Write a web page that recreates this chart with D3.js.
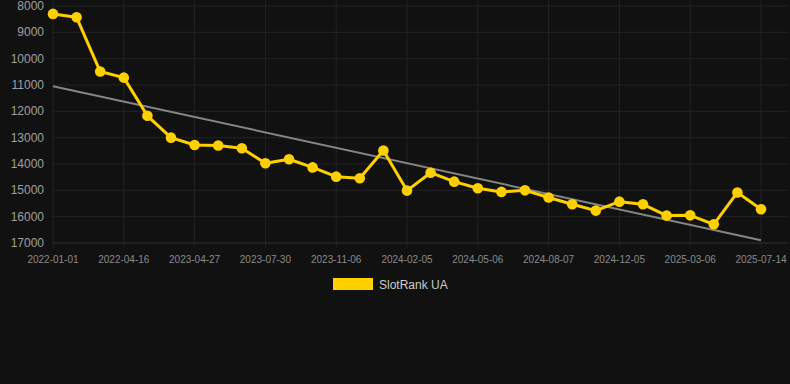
<!DOCTYPE html>
<html>
<head>
<meta charset="utf-8">
<script src="https://cdn.jsdelivr.net/npm/d3@7"></script>
<style>
  html, body { margin: 0; padding: 0; background: #111111; }
  svg { display: block; font-family: Arial, "Liberation Sans", sans-serif; }
</style>
</head>
<body>
<svg id="chart" width="790" height="384"></svg>
<script>
// dates (one per point) and rank values
var dates = [
  "2022-01-01", "2022-02-05", "2022-03-12", "2022-04-16", "2022-05-21", "2023-02-15",
  "2023-04-27", "2023-05-28", "2023-06-28", "2023-07-30", "2023-08-30", "2023-10-05",
  "2023-11-06", "2023-12-07", "2024-01-05", "2024-02-05", "2024-03-06", "2024-04-05",
  "2024-05-06", "2024-06-05", "2024-07-06", "2024-08-07", "2024-09-07", "2024-10-21",
  "2024-12-05", "2025-01-04", "2025-02-03", "2025-03-06", "2025-04-10", "2025-06-10",
  "2025-07-14"
];
var ranks = [
  8300, 8430, 10490, 10720, 12170, 13000,
  13280, 13300, 13400, 13970, 13820, 14130,
  14480, 14540, 13490, 15010, 14330, 14670,
  14920, 15060, 15000, 15270, 15530, 15770,
  15430, 15530, 15960, 15950, 16290, 15080,
  15720
];
var yTicks = [8000, 9000, 10000, 11000, 12000, 13000, 14000, 15000, 16000, 17000];
var seriesName = "SlotRank UA";

var svg = d3.select("svg#chart");
var plotLeft = 53, plotRight = 788, plotTop = 6, plotBottom = 243;

var x = d3.scalePoint().domain(d3.range(dates.length)).range([plotLeft, 761]);
var y = d3.scaleLinear().domain([8000, 17000]).range([plotTop, plotBottom]);

// grid lines
var labelIdx = d3.range(0, dates.length, 3);
svg.append("g").selectAll("line").data(yTicks).enter().append("line")
  .attr("x1", plotLeft).attr("x2", plotRight)
  .attr("y1", d => y(d)).attr("y2", d => y(d))
  .attr("stroke", d => d === 17000 ? "#333" : "#232323").attr("stroke-width", 1);
svg.append("g").selectAll("line").data(labelIdx).enter().append("line")
  .attr("x1", d => x(d)).attr("x2", d => x(d))
  .attr("y1", 0).attr("y2", plotBottom + 5)
  .attr("stroke", "#232323").attr("stroke-width", 1);

// y labels
svg.append("g").selectAll("text").data(yTicks).enter().append("text")
  .attr("x", 44).attr("y", d => y(d) + 4)
  .attr("text-anchor", "end")
  .attr("fill", "#a0a0a0").attr("font-size", 12)
  .text(d => d);

// x labels
svg.append("g").selectAll("text").data(labelIdx).enter().append("text")
  .attr("x", d => x(d)).attr("y", 263)
  .attr("text-anchor", "middle")
  .attr("fill", "#8a8a8a").attr("font-size", 10)
  .text(d => dates[d]);

// trend line (least squares)
var n = ranks.length;
var mx = d3.mean(d3.range(n)), my = d3.mean(ranks);
var sxy = d3.sum(ranks, (v, i) => (i - mx) * (v - my));
var sxx = d3.sum(d3.range(n), i => (i - mx) * (i - mx));
var slope = sxy / sxx, icpt = my - slope * mx;
svg.append("line")
  .attr("x1", x(0)).attr("y1", y(icpt))
  .attr("x2", x(n - 1)).attr("y2", y(icpt + slope * (n - 1)))
  .attr("stroke", "#858585").attr("stroke-width", 2);

// series line
var line = d3.line().x((d, i) => x(i)).y(d => y(d));
svg.append("path").datum(ranks)
  .attr("d", line)
  .attr("fill", "none")
  .attr("stroke", "#ffd000").attr("stroke-width", 3)
  .attr("stroke-linejoin", "round");

svg.append("g").selectAll("circle").data(ranks).enter().append("circle")
  .attr("cx", (d, i) => x(i)).attr("cy", d => y(d))
  .attr("r", 5.3).attr("fill", "#ffd000");

// legend
svg.append("rect").attr("x", 333).attr("y", 278).attr("width", 40).attr("height", 12)
  .attr("fill", "#ffd000");
svg.append("text").attr("x", 379).attr("y", 289)
  .attr("fill", "#cccccc").attr("font-size", 12)
  .text(seriesName);
</script>
</body>
</html>
